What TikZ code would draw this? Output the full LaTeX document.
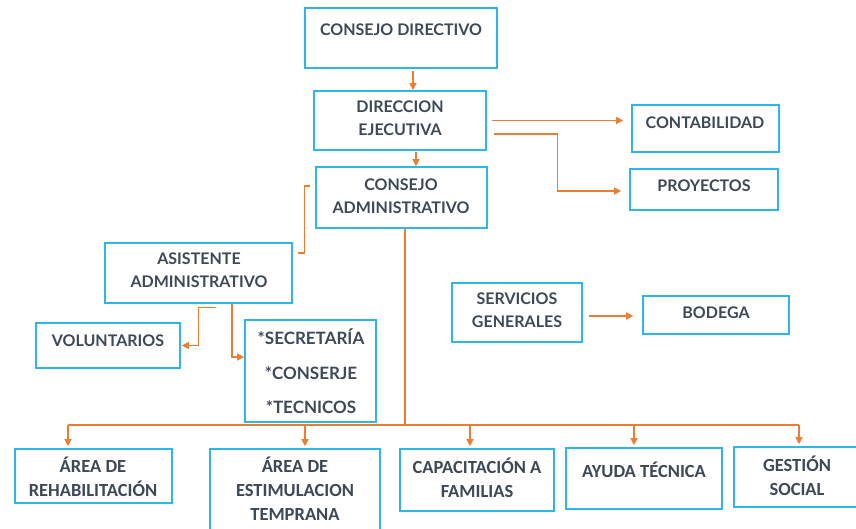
\documentclass[tikz,border=0pt]{standalone}
\usepackage{fontspec}
\setmainfont{Lato}
\newfontfamily\calfont{Carlito}
\usetikzlibrary{arrows.meta,shadows}
\definecolor{boxblue}{HTML}{2DB6E8}
\definecolor{linkor}{HTML}{ED7D31}
\definecolor{txtgray}{HTML}{3E4957}
\tikzset{
  box/.style={draw=boxblue, line width=1.6pt, fill=white, inner sep=0pt,
    drop shadow={shadow xshift=1.2pt, shadow yshift=-1.2pt, opacity=0.25}},
  lbl/.style={text=txtgray, font=\bfseries\fontsize{16}{23}\selectfont, align=center, inner sep=0pt},
  lblc/.style={text=txtgray, font=\calfont\bfseries\fontsize{18.5}{24}\selectfont, align=center, inner sep=0pt},
  link/.style={draw=linkor, line width=1.2pt, -{Triangle[length=7pt,width=7pt]}},
  plain/.style={draw=linkor, line width=1.2pt},
}
\begin{document}
\begin{tikzpicture}[x=1pt, y=-1pt]
\useasboundingbox (0,0) rectangle (856,529);

\node[box, minimum width=192pt, minimum height=60pt] (cd) at (401,38) {};
\node[box, minimum width=172pt, minimum height=59pt] (de) at (400,120.5) {};
\node[box, minimum width=171pt, minimum height=61pt] (ca) at (401.5,197.5) {};
\node[box, minimum width=147pt, minimum height=47pt] (conta) at (705.5,128.5) {};
\node[box, minimum width=148pt, minimum height=41pt] (proy) at (704,189.5) {};
\node[box, minimum width=187pt, minimum height=60pt] (asist) at (198.5,273) {};
\node[box, minimum width=144pt, minimum height=45pt] (volun) at (108,345.5) {};
\node[box, minimum width=131pt, minimum height=102pt] (secre) at (310.5,371) {};
\node[box, minimum width=130pt, minimum height=59pt] (serv) at (517,312.5) {};
\node[box, minimum width=146pt, minimum height=38pt] (bodega) at (716,315) {};

\node[box, minimum width=157pt, minimum height=54pt] (rehab) at (93.5,476) {};
\node[box, minimum width=170pt, minimum height=86pt] (estim) at (295,492) {};
\node[box, minimum width=154pt, minimum height=62pt] (capac) at (477,480) {};
\node[box, minimum width=156pt, minimum height=61pt] (ayuda) at (644,478.5) {};
\node[box, minimum width=136pt, minimum height=60pt] (gestion) at (802,477) {};

\node[lbl] (cdt) at (401,30) {CONSEJO DIRECTIVO};
\node[lbl] (det) at (400,118.5) {DIRECCION\\EJECUTIVA};
\node[lbl] (cat) at (401,196.5) {CONSEJO\\ADMINISTRATIVO};
\node[lbl] (contat) at (705,123) {CONTABILIDAD};
\node[lbl] (proyt) at (704,186) {PROYECTOS};
\node[lbl] (asistt) at (199,270) {ASISTENTE\\ADMINISTRATIVO};
\node[lbl] (volunt) at (108,341) {VOLUNTARIOS};
\node[lbl, font=\bfseries\fontsize{17}{34.5}\selectfont] (secret) at (311,371.5) {*SECRETARÍA\\*CONSERJE\\*TECNICOS};
\node[lbl] (servt) at (517,310.5) {SERVICIOS\\GENERALES};
\node[lbl] (bodegat) at (716,313) {BODEGA};

\node[lblc] (rehabt) at (93,477) {ÁREA DE\\REHABILITACIÓN};
\node[lblc] (estimt) at (295,489) {ÁREA DE\\ESTIMULACION\\TEMPRANA};
\node[lblc] (capact) at (477,477.5) {CAPACITACIÓN A\\FAMILIAS};
\node[lblc] (ayudat) at (644,470) {AYUDA TÉCNICA};
\node[lblc] (gestiont) at (797,475.5) {GESTIÓN\\SOCIAL};

\draw[link] ([xshift=12pt,yshift=-2pt]cd.south) -- ([xshift=12pt]cd.south |- de.north);
\draw[link] ([xshift=16pt,yshift=-1pt]de.south) -- ([xshift=16pt]de.south |- ca.north);
\draw[link] ([xshift=5pt]de.east) -- ([xshift=-8pt]conta.west |- de.east);
\draw[link] ([xshift=7pt,yshift=-13.5pt]de.east) -| ([xshift=-72pt,yshift=-1.5pt]proy.west) -- ([xshift=-8pt,yshift=-1.5pt]proy.west);
\draw[plain] ([xshift=-5pt,yshift=11.5pt]ca.west) -| ([xshift=12pt,yshift=20pt]asist.east) -- ([xshift=5pt,yshift=20pt]asist.east);
\draw[link] ([xshift=17.5pt,yshift=-4pt]asist.south) -| ([xshift=18pt]volun.east) -- ([xshift=1pt]volun.east);
\draw[link] ([xshift=33.5pt]asist.south) |- ([yshift=14pt]secre.west);
\draw[link] ([xshift=6pt,yshift=-1pt]serv.east |- bodega.west) -- ([xshift=-9pt,yshift=-1pt]bodega.west);

\coordinate (bus) at (405,425);
\draw[plain] ([xshift=3.5pt]ca.south) -- (bus);
\draw[plain] ([xshift=-25.5pt]rehab.north |- bus) -- ([xshift=-3pt]gestion.north |- bus);
\foreach \n/\s in {rehab/-25.5,estim/10,capac/-7,ayuda/-10,gestion/-3}
  \draw[link] ([xshift=\s pt]\n.north |- bus) -- ([xshift=\s pt,yshift=2pt]\n.north);

\end{tikzpicture}
\end{document}
